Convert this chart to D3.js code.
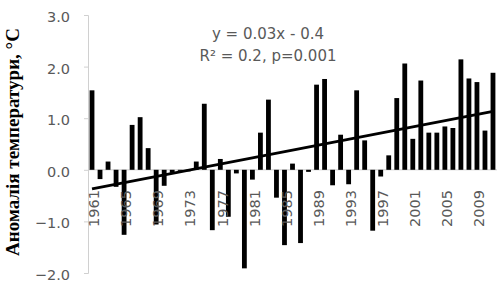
<!DOCTYPE html>
<html><head><meta charset="utf-8">
<script src="https://cdn.jsdelivr.net/npm/d3@7/dist/d3.min.js"></script>
<style>body{margin:0;background:#fff}svg{display:block}</style>
</head><body>
<svg id="c" width="497" height="283"></svg>
<script>
const years = d3.range(1961, 2012);
const anomalies = [1.54,-0.18,0.16,-0.33,-1.26,0.87,1.02,0.42,-1.06,-0.31,
  -0.06,-0.02,-0.03,0.16,1.28,-1.17,0.21,-0.91,-0.07,-1.91,
  -0.19,0.72,1.36,-0.54,-1.46,0.12,-1.42,-0.04,1.65,1.76,
  -0.30,0.68,-0.28,1.54,0.57,-1.18,-0.13,0.28,1.39,2.06,
  0.60,1.73,0.72,0.72,0.84,0.81,2.14,1.77,1.70,0.76,1.88];
const yTicks = [-2,-1,0,1,2,3];
const xLabelYears = [1961,1965,1969,1973,1977,1981,1985,1989,1993,1997,2001,2005,2009];
const trendSlope = 0.03, trendIntercept = -0.4;
const eqLines = ["y = 0.03x - 0.4", "R\u00B2 = 0.2, p=0.001"];
const yTitle = "Аномалія температури, °C";

const svg = d3.select("#c");
const x = d3.scaleBand().domain(years).range([88, 497]).paddingInner(0.4).paddingOuter(0.2);
const y = d3.scaleLinear().domain([-2, 3]).range([273, 15]);

// y axis
const yAxis = d3.axisLeft(y).tickValues(yTicks).tickFormat(d3.format(".1f")).tickSize(4).tickPadding(14);
const ga = svg.append("g").attr("transform","translate(88,0)").call(yAxis);
ga.select(".domain").attr("stroke","#d0d0d0");
ga.selectAll(".tick line").attr("stroke","#d0d0d0");
ga.selectAll(".tick text").attr("fill","#595959").attr("font-family","DejaVu Sans").attr("font-size",14.5).attr("dy","0.45em");

// zero line
svg.append("line").attr("x1",88).attr("x2",497).attr("y1",y(0)).attr("y2",y(0)).attr("stroke","#d0d0d0");

// bars
svg.append("g").selectAll("rect").data(years).join("rect")
  .attr("x", d => x(d)).attr("width", x.bandwidth())
  .attr("y", (d,i) => y(Math.max(0, anomalies[i])))
  .attr("height", (d,i) => Math.abs(y(anomalies[i]) - y(0)))
  .attr("fill","#000");

// x labels
const cx = d => x(d) + x.bandwidth()/2;
svg.append("g").selectAll("text").data(xLabelYears).join("text")
  .attr("transform", d => `translate(${cx(d)+2},190) rotate(-90)`)
  .attr("text-anchor","end").attr("dy","0.36em")
  .attr("fill","#595959").attr("font-family","DejaVu Sans").attr("font-size",14.5)
  .text(d => d);

// trend line
const n = years.length;
svg.append("line")
  .attr("x1", cx(years[0])).attr("y1", y(trendSlope*1 + trendIntercept))
  .attr("x2", cx(years[n-1])).attr("y2", y(trendSlope*n + trendIntercept))
  .attr("stroke","#000").attr("stroke-width",2.8);

// equation
svg.append("g").selectAll("text").data(eqLines).join("text")
  .attr("x", 268).attr("y", (d,i) => 39 + i*22)
  .attr("text-anchor","middle").attr("fill","#595959")
  .attr("font-family","DejaVu Sans").attr("font-size",15)
  .text(d => d);

// y title
svg.append("text").attr("transform","translate(19,142) rotate(-90)")
  .attr("text-anchor","middle").attr("font-family","Liberation Serif").attr("font-weight","bold")
  .attr("font-size",19).attr("fill","#000").text(yTitle);
</script>
</body></html>
